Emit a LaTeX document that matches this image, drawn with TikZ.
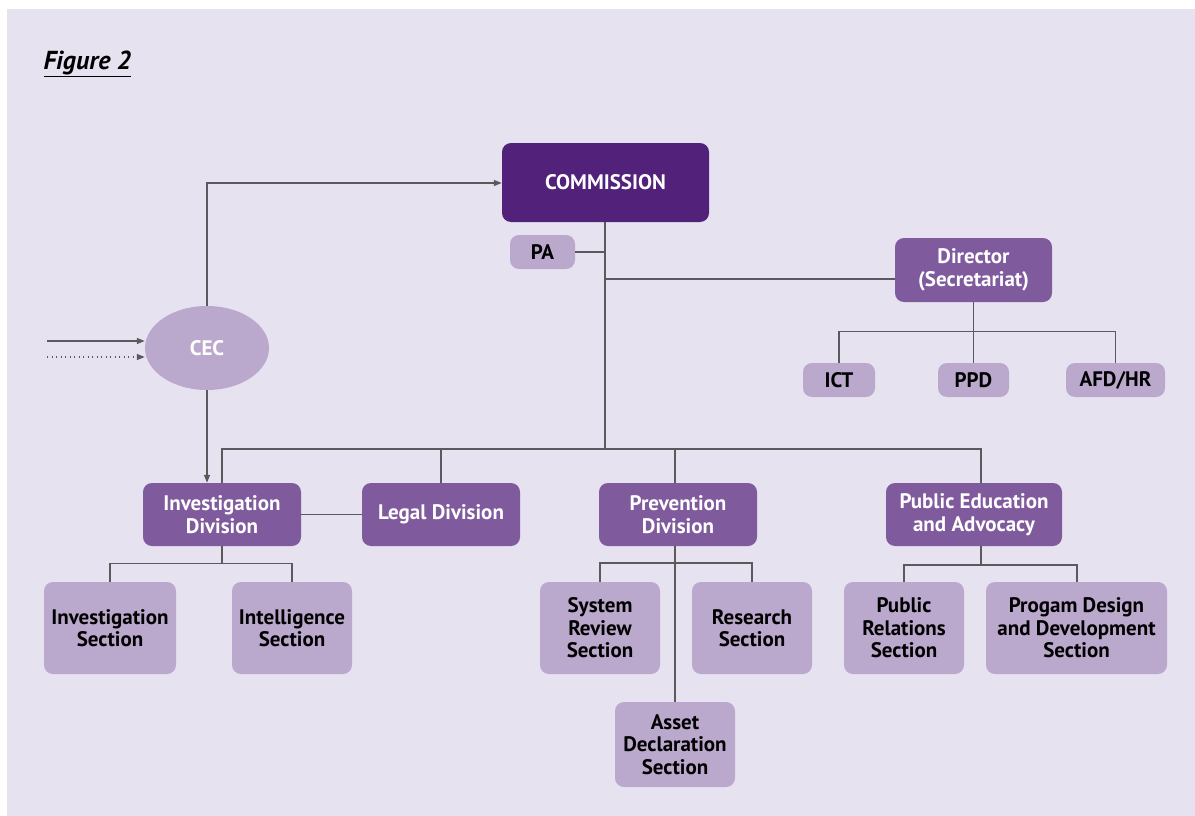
\documentclass[tikz,border=0pt]{standalone}
\usepackage{fontspec}
\setmainfont{PT Sans}
\usetikzlibrary{arrows.meta,shapes.geometric}
\definecolor{bgc}{HTML}{E6E2F0}
\definecolor{darkp}{HTML}{52217A}
\definecolor{midp}{HTML}{7F5A9D}
\definecolor{lightp}{HTML}{BBA8CD}
\definecolor{linec}{HTML}{5A5A5E}
\tikzset{
  unitbox/.style={rectangle, rounded corners=9pt, inner sep=0pt, align=center,
    font=\fontsize{21}{22.5}\selectfont\bfseries},
  topbox/.style={unitbox, fill=darkp, text=white},
  divbox/.style={unitbox, fill=midp, text=white},
  secbox/.style={unitbox, fill=lightp, text=black},
  link/.style={draw=linec, line width=1.3pt},
  arr/.style={link, -{Triangle[length=8pt,width=6pt]}}
}
\begin{document}
\begin{tikzpicture}[x=1pt,y=-1pt]
\useasboundingbox (0,0) rectangle (1195,816);
\fill[bgc] (7,9) rectangle (1195,816);

% caption
\node[anchor=west, font=\fontsize{26}{30}\selectfont\bfseries\itshape] (cap) at (40,64) {\underline{Figure 2}};

% top level
\node[topbox, minimum width=207pt, minimum height=79pt] (com) at (605.5,182.5) {COMMISSION};
\node[secbox, minimum width=65pt, minimum height=34pt] (pa) at (542.5,252) {PA};
\node[divbox, minimum width=157pt, minimum height=64pt] (dir) at (973.5,270) {Director\\(Secretariat)};
\node[secbox, minimum width=72pt, minimum height=34pt] (ict) at (839,380) {ICT};
\node[secbox, minimum width=71pt, minimum height=34pt] (ppd) at (973.5,380) {PPD};
\node[secbox, minimum width=99pt, minimum height=34pt] (afd) at (1115.5,380) {AFD/HR};
\node[ellipse, fill=lightp, text=white, minimum width=124pt, minimum height=84pt, inner sep=0pt,
  font=\fontsize{21}{22.5}\selectfont\bfseries] (cec) at (207,348) {CEC};

% divisions
\node[divbox, minimum width=158pt, minimum height=63pt] (inv) at (222,514.5) {Investigation\\Division};
\node[divbox, minimum width=158pt, minimum height=63pt] (leg) at (441,514.5) {Legal Division};
\node[divbox, minimum width=158pt, minimum height=63pt] (pre) at (678,514.5) {Prevention\\Division};
\node[divbox, minimum width=176pt, minimum height=63pt] (pea) at (974,514.5) {Public Education\\and Advocacy};

% sections
\node[secbox, minimum width=132pt, minimum height=92pt] (invs) at (110,628) {Investigation\\Section};
\node[secbox, minimum width=120pt, minimum height=92pt] (ints) at (292,628) {Intelligence\\Section};
\node[secbox, minimum width=120pt, minimum height=92pt] (sys) at (600,628) {System\\Review\\Section};
\node[secbox, minimum width=120pt, minimum height=92pt] (res) at (752,628) {Research\\Section};
\node[secbox, minimum width=120pt, minimum height=85pt] (ass) at (675,744.5) {Asset\\Declaration\\Section};
\node[secbox, minimum width=120pt, minimum height=92pt] (pub) at (904,628) {Public\\Relations\\Section};
\node[secbox, minimum width=181pt, minimum height=92pt] (prog) at (1076.5,628) {Progam Design\\and Development\\Section};

% junction points
\coordinate (tr1) at (605,252);
\coordinate (tr2) at (605,279);
\coordinate (bus) at (605,449);
\coordinate (cecup) at (207,183);
\coordinate (in1) at (47,341);
\coordinate (in2) at (47,357);

% commission trunk and staff links
\draw[link] (com.south -| bus) -- (bus);
\draw[link] (pa.east) -- (tr1);
\draw[link] (tr2) -- (tr2 -| dir.west);
\draw[link] (dir.south) -- ++(0,29) coordinate (dj);
\draw[link] (ict.north) |- (dj) -| (afd.north);
\draw[link] (ppd.north) -- (dj);

% CEC links
\draw[arr] (cec.north) -- (cecup) -- (com.west |- cecup);
\draw[arr] (cec.south) -- (inv.north -| cec.south);
\draw[arr] (in1) -- (cec.west |- in1);
\draw[arr, dash pattern=on 1.3pt off 3.2pt] (in2) -- (cec.west |- in2);

% division bus
\draw[link] (inv.north) |- (bus) -| (981,483);
\draw[link] (leg.north) -- (leg.north |- bus);
\draw[link] (675,483) -- (675,449);
\draw[link] (inv.east) -- (leg.west);

% section links
\draw[link] (inv.south) -- ++(0,17) coordinate (ij);
\draw[link] (invs.north) |- (ij) -| (ints.north);
\draw[link] (675,546) -- (675,702);
\draw[link] (sys.north) |- (675,563) -| (res.north);
\draw[link] (981,546) -- (981,565) coordinate (pj);
\draw[link] (pub.north) |- (pj) -| (1077,582);
\end{tikzpicture}
\end{document}
